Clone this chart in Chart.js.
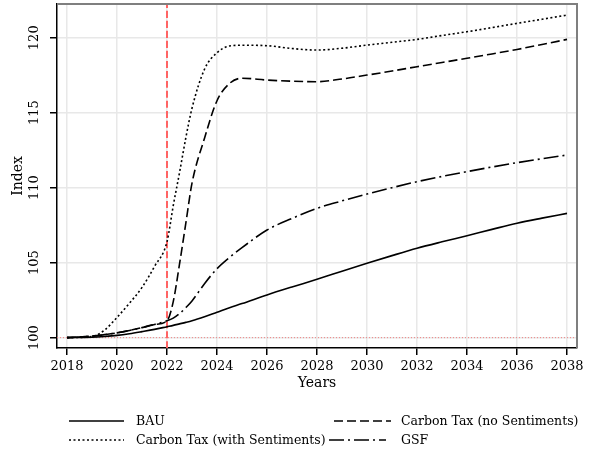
<!DOCTYPE html>
<html>
<head>
<meta charset="utf-8">
<script src="https://cdn.jsdelivr.net/npm/chart.js@4"></script>
<style>
  html, body { margin: 0; padding: 0; background: #fff; }
  #wrap { width: 597px; height: 463px; }
</style>
</head>
<body>
<div id="wrap"><canvas id="indexChart" width="597" height="463"></canvas></div>
<script>
// data
var years = [2018, 2019, 2019.5, 2020, 2020.5, 2021, 2021.5, 2022, 2022.25, 2022.5, 2022.75, 2023, 2023.5, 2024, 2024.5, 2025,
             2026, 2027, 2028, 2029, 2030, 2031, 2032, 2033, 2034, 2035, 2036, 2037, 2038];
var bau          = [100, 100.03, 100.08, 100.15, 100.26, 100.4, 100.55, 100.73, 100.82, 100.92, 101.02, 101.13, 101.4, 101.7, 102.0, 102.27,
                    102.85, 103.38, 103.89, 104.43, 104.96, 105.47, 105.96, 106.39, 106.8, 107.22, 107.63, 107.97, 108.29];
var ctaxNoSent   = [100, 100.1, 100.2, 100.32, 100.48, 100.67, 100.88, 101.12, 102.4, 104.9, 107.6, 110.3, 113.3, 115.8, 116.95, 117.3,
                    117.18, 117.1, 117.07, 117.25, 117.51, 117.78, 118.07, 118.35, 118.63, 118.92, 119.22, 119.55, 119.89];
var ctaxWithSent = [100, 100.07, 100.5, 101.35, 102.3, 103.35, 104.75, 106.4, 108.8, 111.0, 113.3, 115.3, 117.9, 119.0, 119.45, 119.5,
                    119.47, 119.28, 119.18, 119.3, 119.51, 119.7, 119.89, 120.15, 120.4, 120.68, 120.96, 121.23, 121.51];
var gsf          = [100, 100.1, 100.2, 100.32, 100.48, 100.67, 100.88, 101.12, 101.3, 101.6, 102.0, 102.45, 103.6, 104.6, 105.35, 106.0,
                    107.18, 107.95, 108.62, 109.12, 109.58, 110.0, 110.4, 110.75, 111.07, 111.38, 111.67, 111.93, 112.18];
var xTicks = [2018, 2020, 2022, 2024, 2026, 2028, 2030, 2032, 2034, 2036, 2038];
var yTicks = [100, 105, 110, 115, 120];
var policyYear = 2022;
var baseLevel = 100;
var xMin = 2017.6, xMax = 2038.4, yMin = 99.31, yMax = 122.25;

var serif = "'DejaVu Serif', serif";

function pts(arr) {
    return arr.map(function (v, i) { return { x: years[i], y: v }; });
}

// Stata style key at the bottom, two columns
var keyPlugin = {
    id: 'stataKey',
    afterDraw: function (chart) {
        var ctx = chart.ctx;
        var ca = chart.chartArea;
        // gray frame on top and right
        ctx.save();
        ctx.strokeStyle = '#7f7f7f';
        ctx.lineWidth = 2;
        ctx.beginPath();
        ctx.moveTo(ca.left, ca.top);
        ctx.lineTo(ca.right, ca.top);
        ctx.lineTo(ca.right, ca.bottom);
        ctx.stroke();
        ctx.restore();

        // [dataset, sample start, sample end, text x, row y]
        var items = [
            [0, 69, 124, 136, 421],
            [1, 334, 391, 401, 421],
            [2, 69, 124, 136, 440],
            [3, 329, 386, 401, 440]
        ];
        ctx.save();
        ctx.font = '12.5px ' + serif;
        ctx.textBaseline = 'middle';
        ctx.fillStyle = '#000';
        items.forEach(function (it) {
            var ds = chart.data.datasets[it[0]];
            ctx.strokeStyle = '#000';
            ctx.lineWidth = 1.6;
            ctx.setLineDash(ds.borderDash || []);
            ctx.beginPath();
            ctx.moveTo(it[1], it[4]);
            ctx.lineTo(it[2], it[4]);
            ctx.stroke();
            ctx.setLineDash([]);
            ctx.fillText(ds.label, it[3], it[4] + 1);
        });
        ctx.restore();
    }
};

var ctx = document.getElementById('indexChart').getContext('2d');

var lineChart = new Chart(ctx, {
    type: 'line',
    data: {
        datasets: [{
            label: 'BAU',
            data: pts(bau),
            borderColor: '#000',
            borderWidth: 1.6,
            borderDash: []
        }, {
            label: 'Carbon Tax (no Sentiments)',
            data: pts(ctaxNoSent),
            borderColor: '#000',
            borderWidth: 1.6,
            borderDash: [9, 4]
        }, {
            label: 'Carbon Tax (with Sentiments)',
            data: pts(ctaxWithSent),
            borderColor: '#000',
            borderWidth: 1.6,
            borderDash: [2, 2.5]
        }, {
            label: 'GSF',
            data: pts(gsf),
            borderColor: '#000',
            borderWidth: 1.6,
            borderDash: [15, 4, 2, 4]
        }, {
            label: 'policy',
            data: [{ x: policyYear, y: yMin }, { x: policyYear, y: yMax }],
            borderColor: '#ff6464',
            borderWidth: 2,
            borderDash: [7, 3],
            order: 10
        }, {
            label: 'base',
            data: [{ x: xMin, y: baseLevel }, { x: xMax, y: baseLevel }],
            borderColor: '#f08080',
            borderWidth: 1,
            borderDash: [1, 2],
            order: 10
        }]
    },
    options: {
        responsive: false,
        animation: false,
        cubicInterpolationMode: 'monotone',
        elements: { point: { radius: 0 }, line: { fill: false } },
        layout: { padding: { left: 0, top: 4, right: 20, bottom: 71 } },
        plugins: {
            legend: { display: false },
            tooltip: { enabled: false }
        },
        scales: {
            x: {
                type: 'linear',
                min: xMin,
                max: xMax,
                afterBuildTicks: function (axis) {
                    axis.ticks = xTicks.map(function (v) { return { value: v }; });
                },
                afterFit: function (axis) {
                    axis.height = 44;
                    axis.paddingLeft = 0;
                    axis.paddingRight = 0;
                },
                grid: { color: '#e8e8e8', lineWidth: 1.5, tickColor: '#000', tickLength: 7 },
                border: { color: '#000', width: 1.5 },
                ticks: {
                    color: '#000',
                    font: { family: serif, size: 13 },
                    padding: 4,
                    maxRotation: 0,
                    callback: function (v) { return String(v); }
                },
                title: {
                    display: true,
                    text: 'Years',
                    color: '#000',
                    font: { family: serif, size: 14 },
                    padding: { top: 0, bottom: 0 }
                }
            },
            y: {
                min: yMin,
                max: yMax,
                afterBuildTicks: function (axis) {
                    axis.ticks = yTicks.map(function (v) { return { value: v }; });
                },
                afterFit: function (axis) {
                    axis.width = 57;
                    axis.paddingTop = 0;
                    axis.paddingBottom = 0;
                },
                grid: { color: '#e8e8e8', lineWidth: 1.5, tickColor: '#000', tickLength: 7 },
                border: { color: '#000', width: 1.5 },
                ticks: {
                    color: '#000',
                    font: { family: serif, size: 13 },
                    minRotation: 90,
                    maxRotation: 90,
                    crossAlign: 'center',
                    padding: 3
                },
                title: {
                    display: true,
                    text: 'Index',
                    color: '#000',
                    font: { family: serif, size: 14 },
                    padding: { top: 10, bottom: 0 }
                }
            }
        }
    },
    plugins: [keyPlugin]
});
</script>
</body>
</html>
